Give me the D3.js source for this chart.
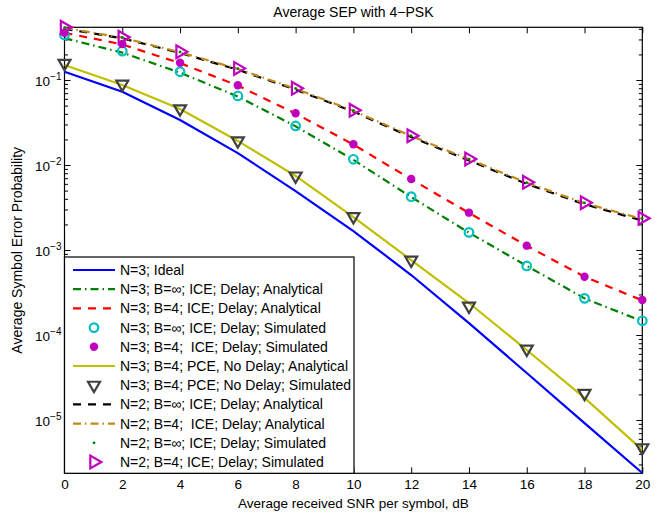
<!DOCTYPE html>
<html>
<head>
<meta charset="utf-8">
<script src="https://cdnjs.cloudflare.com/ajax/libs/d3/7.8.5/d3.min.js"></script>
<style>
  body { margin: 0; background: #fff; }
  text { font-family: "Liberation Sans", Arial, sans-serif; fill: #000; }
</style>
</head>
<body>
<svg id="svg_elem"></svg>
<script>
//define constants
const svgWidth = 667;
const svgHeight = 514;
const plotLeft = 64.5, plotRight = 642.3, plotTop = 27.3, plotBottom = 473.3;

//snr points, dB
const snr = [0, 2, 4, 6, 8, 10, 12, 14, 16, 18, 20];

//N=3 curves
const idealN3 = [0.125, 0.0728, 0.0338, 0.0138, 0.00494, 0.00167, 5.08e-4, 1.38e-4, 3.57e-5, 9.2e-6, 2.38e-6];
const iceInfN3 = [0.31, 0.21, 0.122, 0.064, 0.0285, 0.0115, 0.0042, 0.0016, 6.5e-4, 2.7e-4, 1.45e-4];
const iceB4N3 = [0.36, 0.262, 0.158, 0.086, 0.0403, 0.0174, 0.0068, 0.00273, 0.00112, 4.85e-4, 2.55e-4];
const simInfN3 = [0.338, 0.219, 0.125, 0.0649, 0.0288, 0.01167, 0.00424, 0.00161, 6.49e-4, 2.70e-4, 1.47e-4];
const simB4N3 = [0.36, 0.265, 0.160, 0.0867, 0.0406, 0.01754, 0.00684, 0.00275, 0.001125, 4.85e-4, 2.58e-4];
const pceN3 = [0.150, 0.0873, 0.0456, 0.0192, 0.00743, 0.00244, 7.62e-4, 2.38e-4, 6.66e-5, 1.82e-5, 4.44e-6];
const pceSimN3 = [0.157, 0.0897, 0.0459, 0.0193, 0.00743, 0.00247, 7.62e-4, 2.19e-4, 6.84e-5, 2.06e-5, 4.72e-6];

//N=2 curves
const iceInfN2 = [0.40, 0.31, 0.208, 0.132, 0.077, 0.0425, 0.0213, 0.0113, 0.0060, 0.00345, 0.00222];
const iceB4N2 = [0.41, 0.315, 0.212, 0.135, 0.079, 0.0435, 0.022, 0.0117, 0.0062, 0.00356, 0.00232];
const simInfN2 = [0.412, 0.317, 0.214, 0.136, 0.0795, 0.0438, 0.0220, 0.0117, 0.0062, 0.00358, 0.00234];
const simB4N2 = [0.417, 0.318, 0.215, 0.137, 0.0798, 0.044, 0.0221, 0.01177, 0.00626, 0.0036, 0.00236];

//tick labels
const xTicks = snr;
const yMajor = [1e-1, 1e-2, 1e-3, 1e-4, 1e-5];

//series table (legend order)
const series = [
	{label: 'N=3; Ideal', values: idealN3, color: '#0000ff', dash: null, marker: null},
	{label: 'N=3; B=\u221e; ICE; Delay; Analytical', values: iceInfN3, color: '#008000', dash: '8,4,1.5,4', marker: null},
	{label: 'N=3; B=4; ICE; Delay; Analytical', values: iceB4N3, color: '#ff0000', dash: '8,7', marker: null},
	{label: 'N=3; B=\u221e; ICE; Delay; Simulated', values: simInfN3, color: '#00bfbf', dash: null, marker: 'circle'},
	{label: 'N=3; B=4;  ICE; Delay; Simulated', values: simB4N3, color: '#bf00bf', dash: null, marker: 'dot'},
	{label: 'N=3; B=4; PCE, No Delay; Analytical', values: pceN3, color: '#bfbf00', dash: null, marker: null},
	{label: 'N=3; B=4; PCE; No Delay; Simulated', values: pceSimN3, color: '#404040', dash: null, marker: 'tridown'},
	{label: 'N=2; B=\u221e; ICE; Delay; Analytical', values: iceInfN2, color: '#000000', dash: '8,7', marker: null},
	{label: 'N=2; B=4;  ICE; Delay; Analytical', values: iceB4N2, color: '#bf8a1c', dash: '8,4,1.5,4', marker: null},
	{label: 'N=2; B=\u221e; ICE; Delay; Simulated', values: simInfN2, color: '#008000', dash: null, marker: 'smalldot'},
	{label: 'N=2; B=4; ICE; Delay; Simulated', values: simB4N2, color: '#bf00bf', dash: null, marker: 'triright'}
];

//configure svg window
const svg = d3.select('#svg_elem')
	.attr('width', svgWidth)
	.attr('height', svgHeight);

//scales
const xScale = d3.scaleLinear().domain([0, 20]).range([plotLeft, plotRight]);
const yScale = d3.scaleLog().domain([2.36e-6, 0.417]).range([plotBottom, plotTop]);

//clip for lines
svg.append('clipPath').attr('id', 'clip')
	.append('rect')
		.attr('x', plotLeft).attr('y', plotTop)
		.attr('width', plotRight - plotLeft).attr('height', plotBottom - plotTop);

//minor ticks for log axis
const yMinor = [];
for (let e = -6; e <= -1; e++) {
	for (let m = 2; m <= 9; m++) {
		const v = m * Math.pow(10, e);
		if (v >= 2.36e-6 && v <= 0.417) yMinor.push(v);
	}
}

//axes
const axisG = svg.append('g').classed('axes', true);
const bottomAxis = axisG.append('g')
	.attr('transform', `translate(0, ${plotBottom})`)
	.call(d3.axisBottom(xScale).tickValues(xTicks).tickSize(-6).tickPadding(6).tickFormat(d3.format('d')));
axisG.append('g')
	.attr('transform', `translate(0, ${plotTop})`)
	.call(d3.axisTop(xScale).tickValues(xTicks).tickSize(-6).tickFormat(''));
const leftAxis = axisG.append('g')
	.attr('transform', `translate(${plotLeft}, 0)`)
	.call(d3.axisLeft(yScale).tickValues(yMajor).tickSize(-6).tickPadding(4).tickFormat(d => ''));
axisG.append('g')
	.attr('transform', `translate(${plotLeft}, 0)`)
	.call(d3.axisLeft(yScale).tickValues(yMinor).tickSize(-3.5).tickFormat(''));
axisG.append('g')
	.attr('transform', `translate(${plotRight}, 0)`)
	.call(d3.axisRight(yScale).tickValues(yMajor).tickSize(-6).tickFormat(''));
axisG.append('g')
	.attr('transform', `translate(${plotRight}, 0)`)
	.call(d3.axisRight(yScale).tickValues(yMinor).tickSize(-3.5).tickFormat(''));

axisG.selectAll('.domain').remove();
axisG.selectAll('.tick line').attr('stroke', '#000').attr('stroke-width', 1);
axisG.selectAll('.tick text').attr('font-size', 13.5).attr('font-family', '"Liberation Sans", Arial, sans-serif');

//superscript labels on log axis
leftAxis.selectAll('.tick').each(function(d) {
	const exp = Math.round(Math.log10(d));
	const t = d3.select(this).select('text')
		.attr('x', -3).attr('dy', '0.4em').attr('text-anchor', 'end');
	t.append('tspan').text('10');
	t.append('tspan').attr('font-size', 10).attr('dy', '-0.6em').text('\u2212' + Math.abs(exp));
});

//box
svg.append('rect')
	.attr('x', plotLeft).attr('y', plotTop)
	.attr('width', plotRight - plotLeft).attr('height', plotBottom - plotTop)
	.attr('fill', 'none').attr('stroke', '#000').attr('stroke-width', 1.2);

//line generator
const line = d3.line()
	.x((d, i) => xScale(snr[i]))
	.y(d => yScale(d));

//lines
const lineG = svg.append('g').attr('clip-path', 'url(#clip)');
series.filter(s => !s.marker).forEach(s => {
	lineG.append('path')
		.attr('d', line(s.values))
		.attr('fill', 'none')
		.attr('stroke', s.color)
		.attr('stroke-width', 2.2)
		.attr('stroke-dasharray', s.dash);
});

//marker drawing
function drawMarker(g, type, color, cx, cy) {
	if (type === 'circle') {
		g.append('circle').attr('cx', cx).attr('cy', cy).attr('r', 4.3)
			.attr('fill', 'none').attr('stroke', color).attr('stroke-width', 2.2);
	} else if (type === 'dot') {
		g.append('circle').attr('cx', cx).attr('cy', cy).attr('r', 4.2)
			.attr('fill', color);
	} else if (type === 'smalldot') {
		g.append('circle').attr('cx', cx).attr('cy', cy).attr('r', 1.4)
			.attr('fill', color);
	} else if (type === 'tridown') {
		g.append('path').attr('d', d3.symbol(d3.symbolTriangle, 62)())
			.attr('transform', `translate(${cx}, ${cy}) rotate(180)`)
			.attr('fill', 'none').attr('stroke', color).attr('stroke-width', 2.2);
	} else if (type === 'triright') {
		g.append('path').attr('d', d3.symbol(d3.symbolTriangle, 70)())
			.attr('transform', `translate(${cx}, ${cy}) rotate(90)`)
			.attr('fill', 'none').attr('stroke', color).attr('stroke-width', 2.2);
	}
}

//markers
const markG = svg.append('g');
series.filter(s => s.marker).forEach(s => {
	s.values.forEach((v, i) => drawMarker(markG, s.marker, s.color, xScale(snr[i]), yScale(v)));
});

//legend
const legX = plotLeft, legY = 257, legW = 354 - plotLeft, legH = plotBottom - 257;
const legend = svg.append('g').classed('legend', true);
legend.append('rect')
	.attr('x', legX).attr('y', legY).attr('width', legW).attr('height', legH)
	.attr('fill', '#fff').attr('stroke', '#000').attr('stroke-width', 1.2);
series.forEach((s, i) => {
	const ry = 270 + i * 19.2;
	if (s.marker) {
		drawMarker(legend, s.marker, s.color, 94, ry);
	} else {
		legend.append('line')
			.attr('x1', 73).attr('x2', 115).attr('y1', ry).attr('y2', ry)
			.attr('stroke', s.color).attr('stroke-width', 2.2)
			.attr('stroke-dasharray', s.dash);
	}
	legend.append('text')
		.attr('x', 120).attr('y', ry + 5)
		.attr('font-size', 14)
		.attr('xml:space', 'preserve')
		.style('white-space', 'pre')
		.text(s.label);
});

//title and axis labels
svg.append('text')
	.attr('x', (plotLeft + plotRight) / 2).attr('y', 17)
	.attr('text-anchor', 'middle').attr('font-size', 14)
	.text('Average SEP with 4\u2212PSK');
svg.append('text')
	.attr('x', (plotLeft + plotRight) / 2).attr('y', 508)
	.attr('text-anchor', 'middle').attr('font-size', 13.5)
	.text('Average received SNR per symbol, dB');
svg.append('text')
	.attr('transform', `translate(22, ${(plotTop + plotBottom) / 2}) rotate(-90)`)
	.attr('text-anchor', 'middle').attr('font-size', 14)
	.text('Average Symbol Error Probability');
</script>
</body>
</html>
